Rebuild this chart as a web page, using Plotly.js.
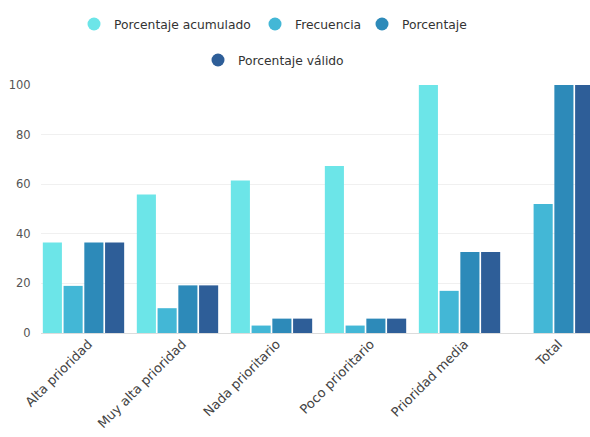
<!DOCTYPE html>
<html>
<head>
<meta charset="utf-8">
<script src="https://cdn.plot.ly/plotly-3.0.1.min.js"></script>
<style>
  html, body { margin: 0; padding: 0; background: #fff; overflow: hidden; }
  #chart { width: 590px; height: 437px; }
</style>
</head>
<body>
<div id="chart"></div>
<script>
// Prioridad: frecuencias y porcentajes por categoría
const categorias = ["Alta prioridad", "Muy alta prioridad", "Nada prioritario", "Poco prioritario", "Prioridad media", "Total"];
const porcentajeAcumulado = [36.5, 55.8, 61.5, 67.3, 100, null];
const frecuencia = [19, 10, 3, 3, 17, 52];
const porcentaje = [36.5, 19.2, 5.8, 5.8, 32.7, 100];
const porcentajeValido = [36.5, 19.2, 5.8, 5.8, 32.7, 100];

const nombres = ["Porcentaje acumulado", "Frecuencia", "Porcentaje", "Porcentaje válido"];
const colores = ["#6ce5e8", "#43b7d6", "#2d8ab9", "#2e5e98"];
const series = [porcentajeAcumulado, frecuencia, porcentaje, porcentajeValido];

const FONT = "DejaVu Sans, Verdana, sans-serif";
const W = 590, H = 437;

const traces = series.map((vals, i) => ({
  type: "bar",
  name: nombres[i],
  x: categorias,
  y: vals,
  marker: { color: colores[i], line: { width: 0 } },
  showlegend: false,
  hovertemplate: "%{x}<br>" + nombres[i] + ": %{y}<extra></extra>"
}));

// Legend: one round-marker entry per series, each in its own legend box
// (three across the first row, the last one centred on a second row)
const legendIds = ["legend", "legend2", "legend3", "legend4"];
const legendPos = [[74, 24], [255, 24], [362, 24], [198, 60]];

nombres.forEach((n, i) => {
  traces.push({
    type: "scatter",
    mode: "markers",
    name: n,
    x: [null],
    y: [null],
    marker: { color: colores[i], size: 13, symbol: "circle" },
    legend: legendIds[i],
    hoverinfo: "skip"
  });
});

const layout = {
  width: W,
  height: H,
  margin: { l: 41, r: 0, t: 85, b: 104 },
  paper_bgcolor: "#fff",
  plot_bgcolor: "#fff",
  font: { family: FONT, color: "#555" },
  barmode: "group",
  bargap: 0.117,
  bargroupgap: 0.08,
  showlegend: true,
  xaxis: {
    type: "category",
    range: [-0.452, 5.388],
    showgrid: false,
    showline: false,
    zeroline: false,
    ticks: "",
    tickangle: -45,
    ticklabelshift: 5,
    tickfont: { family: FONT, size: 13, color: "#444" },
    automargin: false
  },
  yaxis: {
    range: [0, 100],
    tickvals: [0, 20, 40, 60, 80, 100],
    showgrid: true,
    gridcolor: "#f0f0f0",
    gridwidth: 1,
    zeroline: true,
    zerolinecolor: "#dcdcdc",
    zerolinewidth: 1,
    showline: false,
    ticks: "outside",
    ticklen: 7,
    tickcolor: "rgba(0,0,0,0)",
    tickfont: { family: FONT, size: 11.5, color: "#555" },
    automargin: false,
    fixedrange: true
  }
};

legendIds.forEach((id, i) => {
  layout[id] = {
    orientation: "h",
    xref: "container",
    yref: "container",
    x: legendPos[i][0] / W,
    y: 1 - legendPos[i][1] / H,
    xanchor: "left",
    yanchor: "middle",
    font: { family: FONT, size: 12.3, color: "#333" },
    bgcolor: "rgba(0,0,0,0)",
    borderwidth: 0,
    itemclick: false,
    itemdoubleclick: false
  };
});

Plotly.newPlot("chart", traces, layout, { displayModeBar: false, staticPlot: true });
</script>
</body>
</html>
